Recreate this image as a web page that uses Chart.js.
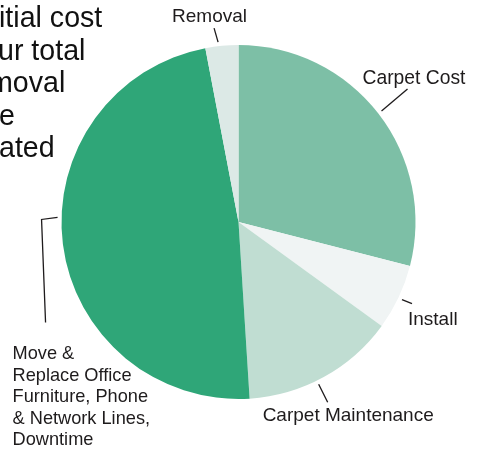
<!DOCTYPE html>
<html>
<head>
<meta charset="utf-8">
<script src="https://cdn.jsdelivr.net/npm/chart.js@4/dist/chart.umd.min.js"></script>
<style>
  html, body { margin: 0; padding: 0; background: #fff; }
  #wrap { position: relative; width: 477px; height: 449px; overflow: hidden; }
</style>
</head>
<body>
<div id="wrap"><canvas id="pie" width="477" height="449"></canvas></div>
<script>
// Data (share of total, clockwise from 12 o'clock)
const categories = ['Carpet Cost', 'Install', 'Carpet Maintenance',
    'Move & Replace Office Furniture, Phone & Network Lines, Downtime', 'Removal'];
const shares = [29, 6, 14, 48, 3];
const sliceColors = ['#7dbfa6', '#f0f4f4', '#c0ddd2', '#2fa678', '#dce9e6'];

// Callout label lines for each slice
const labelLines = [
    ['Carpet Cost'],
    ['Install'],
    ['Carpet Maintenance'],
    ['Move &', 'Replace Office', 'Furniture, Phone', '& Network Lines,', 'Downtime'],
    ['Removal']
];

// Clipped paragraph on the left edge of the page
const introText = ['itial cost', 'ur total', 'moval', 'e', 'ated'];

// Where each callout sits relative to its slice (styling only)
const calloutLayout = [
    { frac: 0.50, path: [[26, -22]], tx: -19, ty: -27, size: 19.3, lh: 22 },
    { frac: 0.51, path: [[10, 4]], tx: 6, ty: 25.5, size: 19, lh: 22 },
    { frac: 0.55, path: [[9, 18]], tx: -56, ty: 37, size: 19, lh: 22 },
    { frac: 0.55, path: [[-16, 2], [-12, 105]], tx: -45, ty: 142, size: 18.2, lh: 21.5 },
    { frac: 0.40, path: [[-4, -14]], tx: -46, ty: -20, size: 19, lh: 22 }
];
const introLayout = [[-1, 27], [-2, 59.5], [-11, 92], [-1, 124.5], [-1, 157]];

const calloutPlugin = {
    id: 'callouts',
    afterDatasetsDraw(chart) {
        const ctx = chart.ctx;
        const arcs = chart.getDatasetMeta(0).data;
        ctx.save();
        ctx.strokeStyle = '#1e1b1c';
        ctx.fillStyle = '#1e1b1c';
        ctx.lineWidth = 1.3;
        ctx.textAlign = 'left';
        ctx.textBaseline = 'alphabetic';
        arcs.forEach((arc, i) => {
            const lay = calloutLayout[i];
            const p = arc.getProps(['x', 'y', 'startAngle', 'endAngle', 'outerRadius'], true);
            const a = p.startAngle + lay.frac * (p.endAngle - p.startAngle);
            const r = p.outerRadius + 4;
            const ax = p.x + Math.cos(a) * r;
            const ay = p.y + Math.sin(a) * r;
            ctx.beginPath();
            ctx.moveTo(ax, ay);
            lay.path.forEach(pt => ctx.lineTo(ax + pt[0], ay + pt[1]));
            ctx.stroke();
            ctx.font = lay.size + 'px "Liberation Sans", Arial, sans-serif';
            labelLines[i].forEach((line, j) => {
                ctx.fillText(line, ax + lay.tx, ay + lay.ty + j * lay.lh);
            });
        });
        // the cut-off paragraph text
        ctx.fillStyle = '#111';
        ctx.font = '28.6px "Liberation Sans", Arial, sans-serif';
        introText.forEach((line, j) => {
            ctx.fillText(line, introLayout[j][0], introLayout[j][1]);
        });
        ctx.restore();
    }
};

new Chart(document.getElementById('pie').getContext('2d'), {
    type: 'pie',
    data: {
        labels: categories,
        datasets: [{
            data: shares,
            backgroundColor: sliceColors,
            borderWidth: 0
        }]
    },
    options: {
        responsive: false,
        animation: false,
        layout: { padding: { left: 61.5, right: 61.5, top: 45, bottom: 50 } },
        plugins: {
            legend: { display: false },
            tooltip: { enabled: false }
        }
    },
    plugins: [calloutPlugin]
});
</script>
</body>
</html>
